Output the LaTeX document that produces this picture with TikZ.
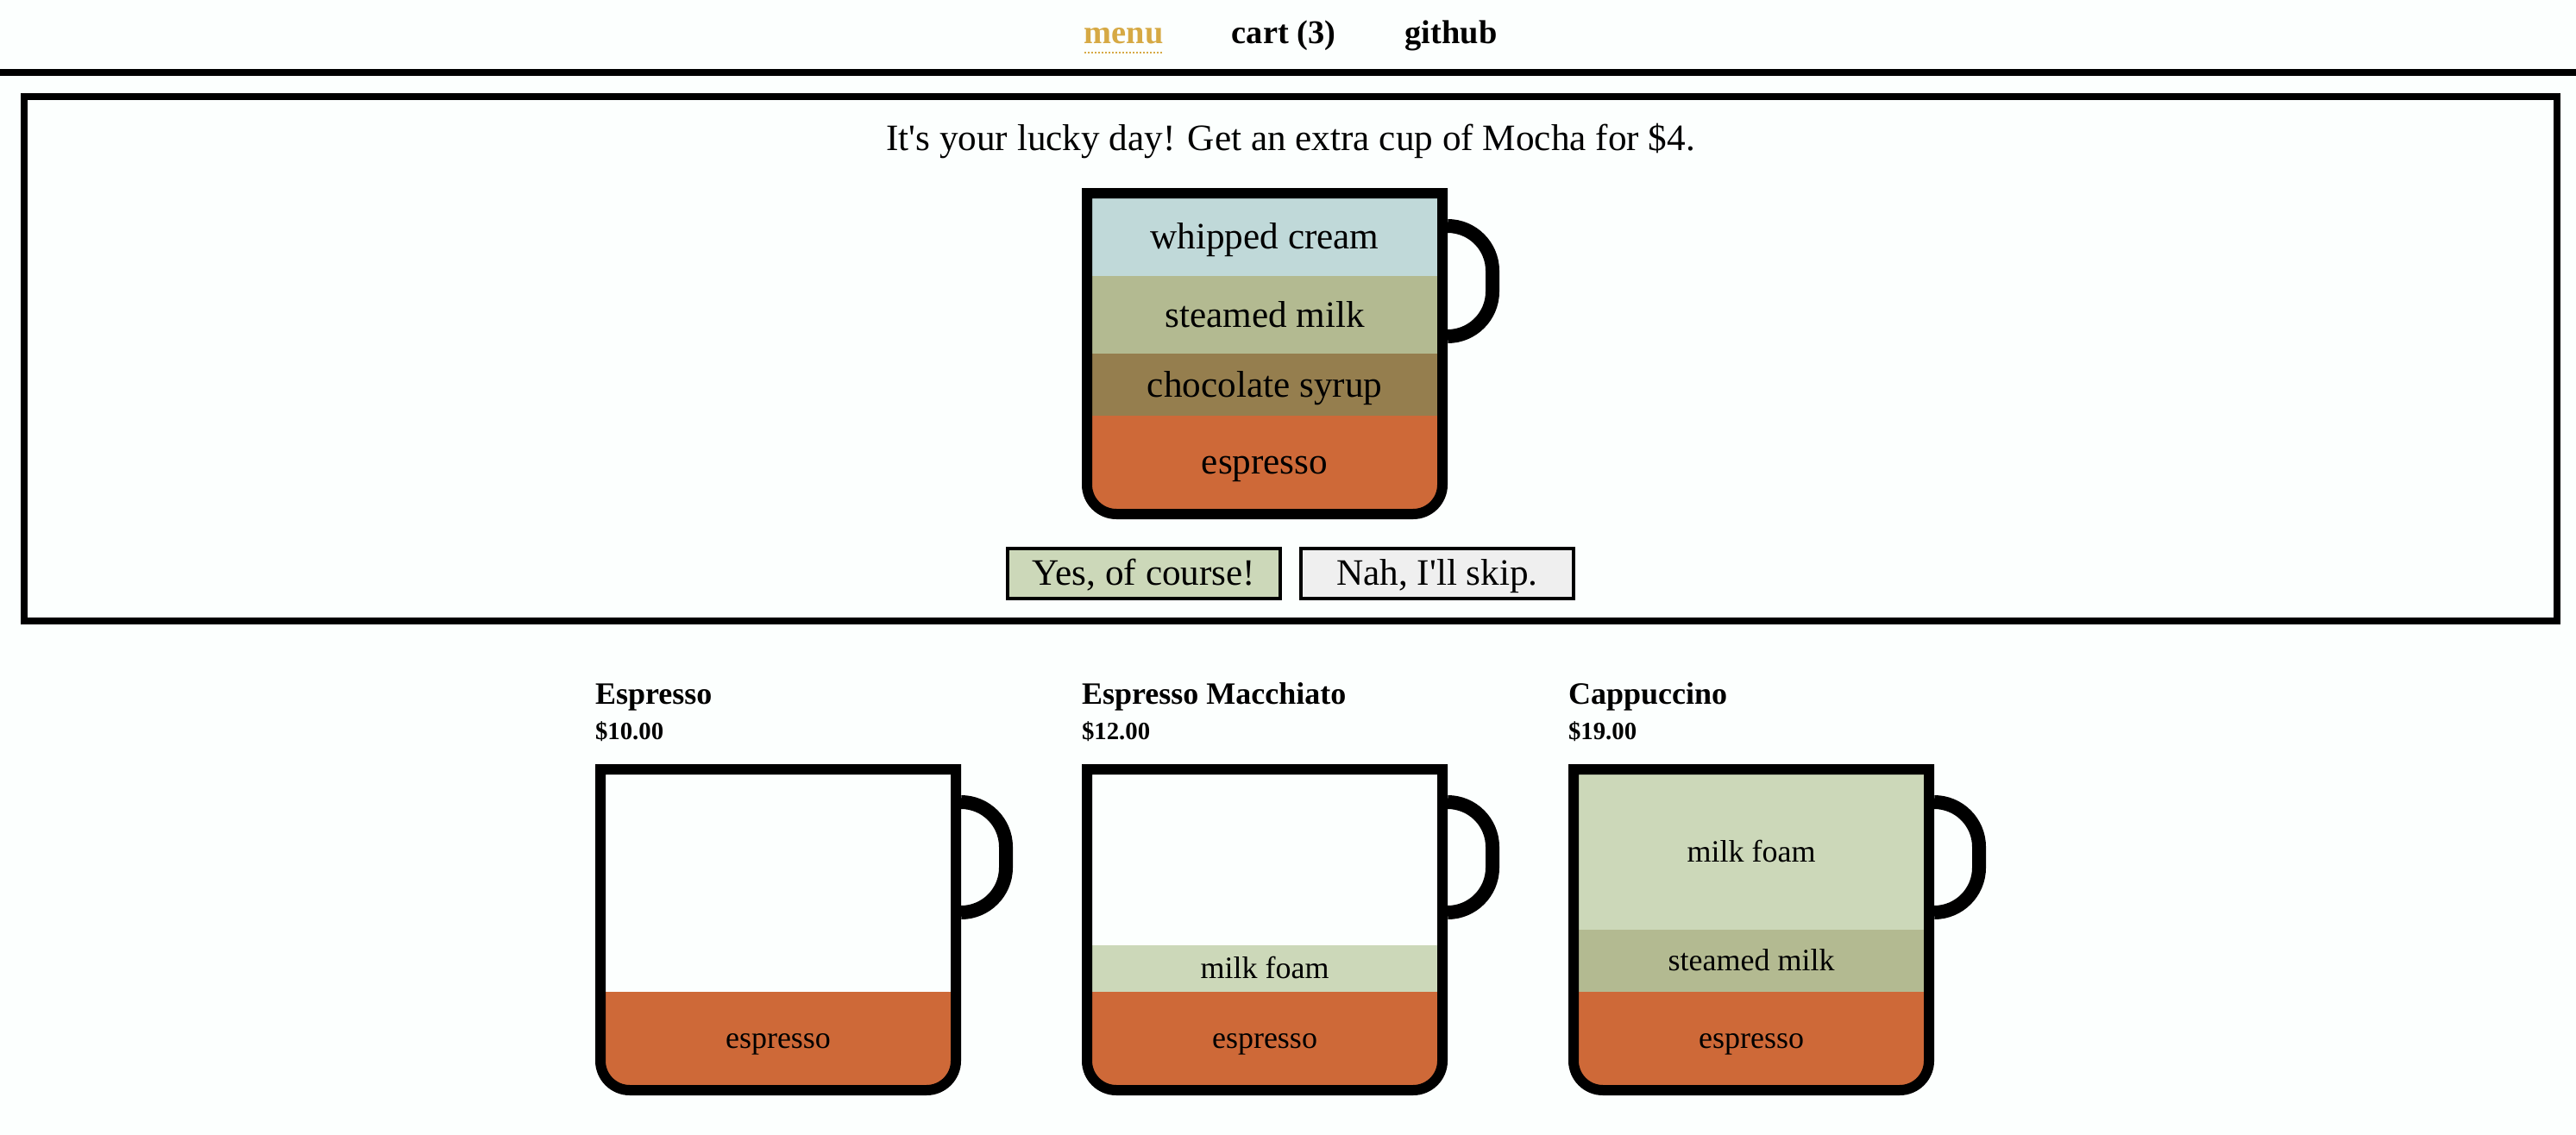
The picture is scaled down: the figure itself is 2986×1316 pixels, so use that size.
\documentclass[tikz,border=0pt]{standalone}
\usepackage{fontspec}
\newfontfamily\srf{Liberation Serif}
\definecolor{pagebg}{HTML}{FCFFFE}
\definecolor{espressoc}{HTML}{CE6938}
\definecolor{chococ}{HTML}{957E4E}
\definecolor{steamedc}{HTML}{B3BA91}
\definecolor{foamc}{HTML}{CCD8B9}
\definecolor{creamc}{HTML}{C0D9D9}
\definecolor{nahc}{HTML}{EFEFEF}
\definecolor{goldc}{HTML}{D6A944}
\tikzset{
  every node/.style={inner sep=0pt,outer sep=0pt,text=black},
  big/.style={anchor=base,font=\srf\fontsize{43.2}{50}\selectfont},
  small/.style={anchor=base,font=\srf\fontsize{36}{42}\selectfont},
  navitem/.style={anchor=base,font=\srf\bfseries\fontsize{38.4}{44}\selectfont},
  title/.style={anchor=base west,font=\srf\bfseries\fontsize{36}{42}\selectfont},
  price/.style={anchor=base west,font=\srf\bfseries\fontsize{28.8}{34}\selectfont},
  rulebar/.style={line width=8pt,draw=black},
  mugline/.style={line width=12pt,draw=black,line join=miter},
  handleline/.style={line width=16pt,draw=black,rounded corners=52pt},
  btn/.style={line width=4pt,draw=black}
}
% #1 left outer x, #2 top outer y
\newcommand{\mugpath}[2]{({#1+6},{#2+6}) -- ({#1+418},{#2+6}) -- ({#1+418},{#2+344}) .. controls ({#1+418},{#2+362.8}) and ({#1+402.8},{#2+378}) .. ({#1+384},{#2+378}) -- ({#1+40},{#2+378}) .. controls ({#1+21.2},{#2+378}) and ({#1+6},{#2+362.8}) .. ({#1+6},{#2+344}) -- cycle}
% #3: list of fills
\newcommand{\mugbody}[3]{%
  \begin{scope}
    \clip \mugpath{#1}{#2};
    #3
  \end{scope}
  \draw[mugline] \mugpath{#1}{#2};
  \draw[handleline] ({#1+424},{#2+44}) -- ({#1+476},{#2+44}) -- ({#1+476},{#2+172}) -- ({#1+424},{#2+172});
}
\begin{document}
\begin{tikzpicture}[x=1pt,y=-1pt]
\useasboundingbox (0,0) rectangle (2986,1316);
\fill[pagebg] (0,0) rectangle (2986,1316);

% navigation
\node[navitem,text=goldc] (menu) at (1302.5,50.5) {menu};
\node[navitem] (cart) at (1488,50.5) {cart (3)};
\node[navitem] (github) at (1682,50.5) {github};
\draw[goldc,line width=2pt,dash pattern=on 2pt off 2pt] (1257,61) -- (1348,61);
\draw[rulebar] (0,84) -- (2986,84);

% offer panel
\draw[rulebar] (28,112) rectangle (2964,720);
\node[big] (offer) at (1496,174.5) {It's your lucky day! Get an extra cup of Mocha for \$4.};

\mugbody{1254}{218}{%
  \fill[creamc] (1254,218) rectangle (1678,320);
  \fill[steamedc] (1254,320) rectangle (1678,410);
  \fill[chococ] (1254,410) rectangle (1678,482);
  \fill[espressoc] (1254,482) rectangle (1678,602);
}
\node[big] (mwc) at (1466,288.5) {whipped cream};
\node[big] (msm) at (1466,379) {steamed milk};
\node[big] (mcs) at (1466,460.5) {chocolate syrup};
\node[big] (mes) at (1466,549.5) {espresso};

\draw[btn,fill=foamc] (1168,636) rectangle (1484,694);
\draw[btn,fill=nahc] (1508,636) rectangle (1824,694);
\node[big] (yes) at (1326,678.5) {Yes, of course!};
\node[big] (nah) at (1666,678.5) {Nah, I'll skip.};

% espresso
\node[title] (t1) at (690,816) {Espresso};
\node[price] (p1) at (690,857.5) {\$10.00};
\mugbody{690}{886}{%
  \fill[espressoc] (690,1150) rectangle (1114,1270);
}
\node[small] (e1) at (902,1215) {espresso};

% macchiato
\node[title] (t2) at (1254,816) {Espresso Macchiato};
\node[price] (p2) at (1254,857.5) {\$12.00};
\mugbody{1254}{886}{%
  \fill[foamc] (1254,1096) rectangle (1678,1150);
  \fill[espressoc] (1254,1150) rectangle (1678,1270);
}
\node[small] (f2) at (1466,1134) {milk foam};
\node[small] (e2) at (1466,1215) {espresso};

% cappuccino
\node[title] (t3) at (1818,816) {Cappuccino};
\node[price] (p3) at (1818,857.5) {\$19.00};
\mugbody{1818}{886}{%
  \fill[foamc] (1818,886) rectangle (2242,1078);
  \fill[steamedc] (1818,1078) rectangle (2242,1150);
  \fill[espressoc] (1818,1150) rectangle (2242,1270);
}
\node[small] (f3) at (2030,999) {milk foam};
\node[small] (s3) at (2030,1125) {steamed milk};
\node[small] (e3) at (2030,1215) {espresso};
\end{tikzpicture}
\end{document}
